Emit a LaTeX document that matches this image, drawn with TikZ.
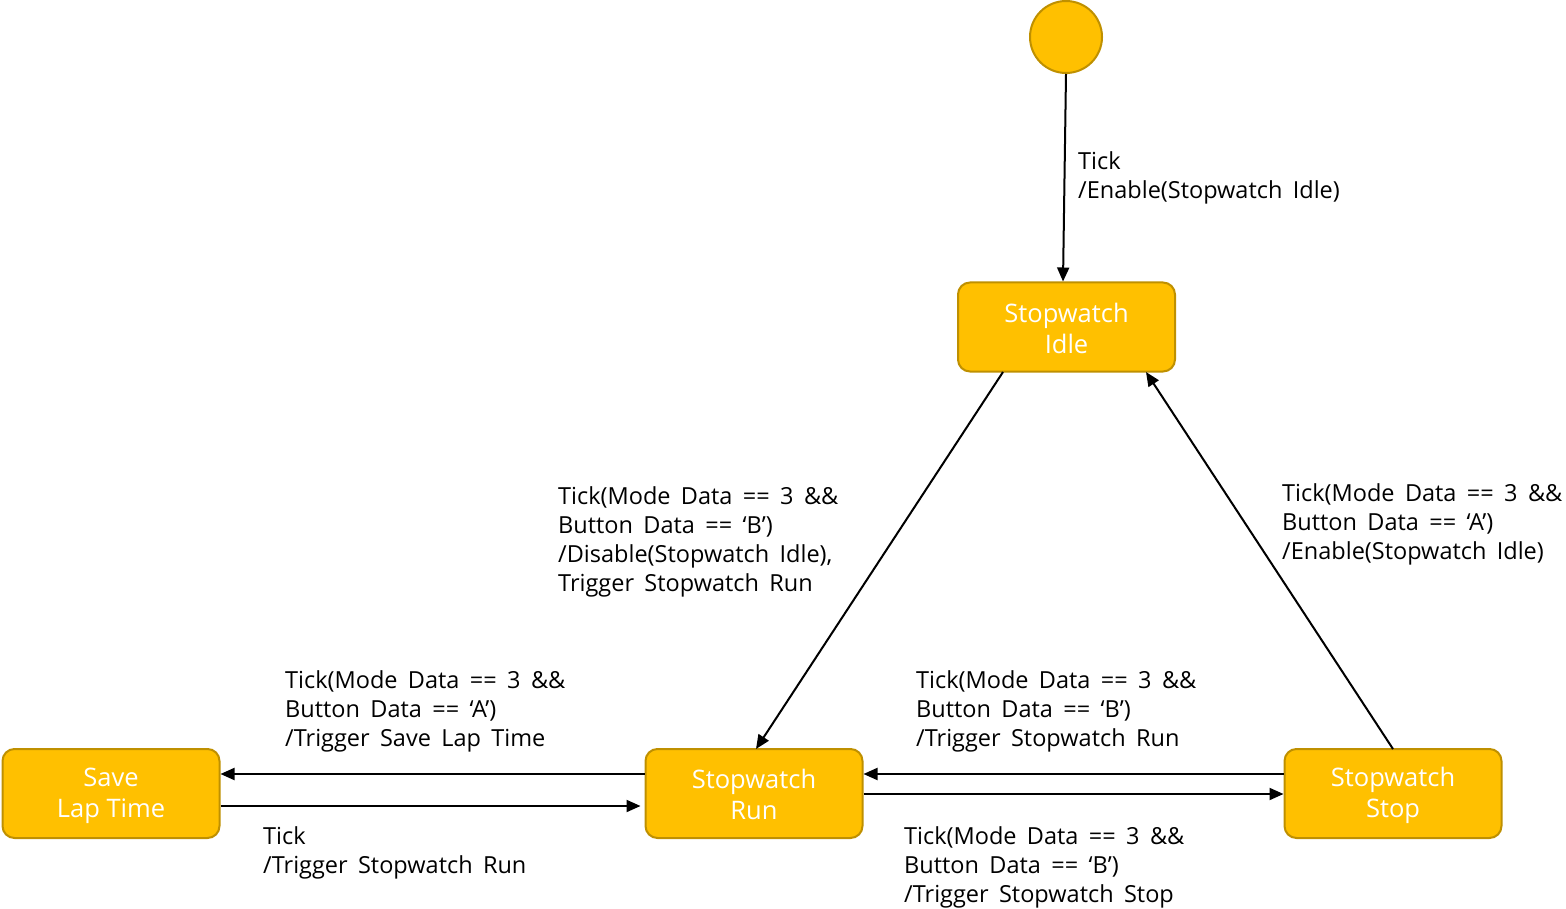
\documentclass[tikz,border=0pt]{standalone}
\usepackage{fontspec}
\setmainfont{Open Sans}
\newfontfamily\lblfont[WordSpace=1.7]{Open Sans}
\usetikzlibrary{arrows.meta}
\definecolor{stfill}{HTML}{FFC000}
\definecolor{stdraw}{HTML}{BF9000}
\newcommand\ls{\rule[-3pt]{0pt}{27pt}}
\tikzset{
  state/.style={rectangle, rounded corners=12pt, draw=stdraw, line width=2pt, fill=stfill,
    minimum width=217pt, minimum height=89pt, text=white, align=center,
    font=\fontsize{25.5}{31}\selectfont, inner sep=0pt},
  init/.style={circle, draw=stdraw, line width=2pt, fill=stfill, minimum size=72pt, inner sep=0pt},
  conn/.style={line width=2pt, -{Triangle[length=14pt,width=12pt]}},
  lbl/.style={anchor=north west, align=left, inner sep=0pt, font=\lblfont\fontsize{23.5}{29}\selectfont}
}
\begin{document}
\begin{tikzpicture}[x=1pt,y=-1pt]
\useasboundingbox (0,0) rectangle (1566,909);
\node[init] (start) at (1066,37) {};
\node[state] (idle) at (1066.5,327) {\ls Stopwatch\\\ls Idle};
\node[state] (save) at (111,793.5) {\ls Save\\\ls Lap Time};
\node[state] (run) at (754,793.5) {\ls Stopwatch\\\ls Run};
\node[state] (stop) at (1393,793.5) {\ls Stopwatch\\\ls Stop};

\coordinate (i1) at (1063,282);
\draw[conn] (start.south) -- (idle.north -| i1);

\coordinate (iA) at (1003,372);
\coordinate (rA) at (756,749);
\draw[conn] (iA) -- (rA);

\coordinate (sB) at (1393,749);
\coordinate (iB) at (1146,372);
\draw[conn] (sB) -- (iB);

\draw[conn] (run.west |- 0,774) -- (save.east |- 0,774);
\draw[conn] (save.east |- 0,806) -- ([xshift=-4pt]run.west |- 0,806);
\draw[conn] (stop.west |- 0,774) -- (run.east |- 0,774);
\draw[conn] (run.east |- 0,794) -- (stop.west |- 0,794);

\node[lbl] (l1) at (1078,151) {Tick\\/Enable(Stopwatch Idle)};
\node[lbl] (l2) at (558,486) {Tick(Mode Data == 3 \&\&\\Button Data == ‘B’)\\/Disable(Stopwatch Idle),\\Trigger Stopwatch Run};
\node[lbl] (l3) at (1282,483) {Tick(Mode Data == 3 \&\&\\Button Data == ‘A’)\\/Enable(Stopwatch Idle)};
\node[lbl] (l4) at (285,670) {Tick(Mode Data == 3 \&\&\\Button Data == ‘A’)\\/Trigger Save Lap Time};
\node[lbl] (l5) at (916,670) {Tick(Mode Data == 3 \&\&\\Button Data == ‘B’)\\/Trigger Stopwatch Run};
\node[lbl] (l6) at (263,826) {Tick\\/Trigger Stopwatch Run};
\node[lbl] (l7) at (904,826) {Tick(Mode Data == 3 \&\&\\Button Data == ‘B’)\\/Trigger Stopwatch Stop};
\end{tikzpicture}
\end{document}
